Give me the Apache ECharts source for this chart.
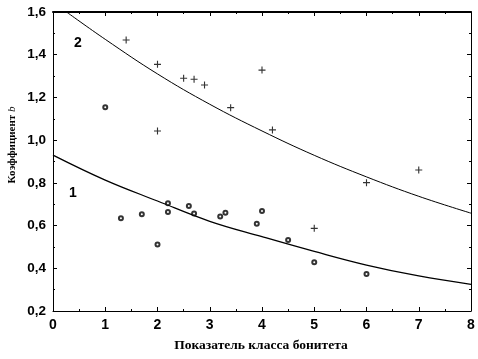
<!DOCTYPE html>
<html><head><meta charset="utf-8">
<script src="https://cdn.jsdelivr.net/npm/echarts@6/dist/echarts.min.js"></script>
<style>html,body{margin:0;padding:0;background:#fff}#c{width:478px;height:359px}</style>
</head><body><div id="c"></div>
<script>
// Series 1 (open circles)
var s1X = [1.0, 1.3, 1.7, 2.0, 2.2, 2.2, 2.6, 2.7, 3.2, 3.3, 3.9, 4.0, 4.5, 5.0, 6.0];
var s1Y = [1.154, 0.634, 0.653, 0.511, 0.704, 0.664, 0.692, 0.656, 0.642, 0.660, 0.609, 0.668, 0.533, 0.428, 0.373];
// Series 2 (crosses)
var s2X = [1.4, 2.0, 2.5, 2.7, 2.9, 3.4, 2.0, 4.0, 4.2, 7.0, 6.0, 5.0];
var s2Y = [1.469, 1.355, 1.290, 1.285, 1.258, 1.152, 1.043, 1.328, 1.048, 0.860, 0.801, 0.587];
// Fitted curves
var c1X = [0, 1, 2, 3, 4, 5, 6, 7, 8];
var c1Y = [0.930, 0.813, 0.715, 0.620, 0.548, 0.479, 0.415, 0.364, 0.325];
var c2X = [0.26, 1, 2, 3, 4, 5, 6, 7, 8];
var c2Y = [1.600, 1.472, 1.310, 1.168, 1.043, 0.929, 0.828, 0.737, 0.658];
var xTicks = [0, 8, 1];
var yTicks = [0.2, 1.6, 0.2];
var curveLabels = ['1', '2'];
var xTitle = 'Показатель класса бонитета';
var yTitle = 'Коэффициент ';
var yTitleItalic = 'b';

function zip(a, b) { return a.map(function (v, i) { return [v, b[i]]; }); }

var chart = echarts.init(document.getElementById('c'), null, {renderer: 'canvas'});
var crossPath = 'path://M-0.8,-5H0.8V-0.8H5V0.8H0.8V5H-0.8V0.8H-5V-0.8H-0.8Z';

function xa(pos, showLabel, lw) {
  return {
    type: 'value', position: pos, min: xTicks[0], max: xTicks[1], interval: xTicks[2],
    axisLine: {show: true, onZero: false, lineStyle: {color: '#000', width: lw}},
    axisTick: {show: true, inside: true, length: 4, lineStyle: {color: '#000'}},
    minorTick: {show: true, splitNumber: 2, length: 2, lineStyle: {color: '#000'}},
    axisLabel: {show: showLabel, margin: 7, formatter: function (v) { return String(v); }, color: '#000', fontWeight: 'bold', fontFamily: 'Liberation Sans, Arial', fontSize: 14},
    splitLine: {show: false}
  };
}
function ya(pos, showLabel) {
  return {
    type: 'value', position: pos, min: yTicks[0], max: yTicks[1], interval: yTicks[2],
    axisLine: {show: true, onZero: false, lineStyle: {color: '#000', width: 1}},
    axisTick: {show: true, inside: true, length: 4, lineStyle: {color: '#000'}},
    minorTick: {show: true, splitNumber: 2, length: 2, lineStyle: {color: '#000'}},
    axisLabel: {show: showLabel, margin: 7, formatter: function (v) { return v.toFixed(1).replace('.', ','); }, color: '#000', fontWeight: 'bold', fontFamily: 'Liberation Sans, Arial', fontSize: 13.5},
    splitLine: {show: false}
  };
}

chart.setOption({
  animation: false,
  backgroundColor: '#fff',
  grid: {left: 53, right: 7, top: 12, bottom: 48},
  xAxis: [xa('bottom', true, 1), xa('top', false, 2)],
  yAxis: [ya('left', true), ya('right', false)],
  series: [
    {type: 'line', data: zip(c2X, c2Y), smooth: 0.4, showSymbol: false, lineStyle: {color: '#000', width: 1}, z: 2},
    {type: 'line', data: zip(c1X, c1Y), smooth: 0.4, showSymbol: false, lineStyle: {color: '#000', width: 1.3}, z: 2},
    {type: 'scatter', data: zip(s1X, s1Y), symbol: 'emptyCircle', symbolSize: 4, itemStyle: {color: '#000', borderColor: '#000', borderWidth: 0.9}, z: 3},
    {type: 'scatter', data: zip(s2X, s2Y), symbol: crossPath, symbolSize: 7, itemStyle: {color: '#000'}, z: 3}
  ],
  graphic: [
    {type: 'text', x: 78, y: 43, style: {text: curveLabels[1], fill: '#000', font: 'bold 14px "Liberation Sans", Arial', align: 'center', verticalAlign: 'middle'}},
    {type: 'text', x: 73, y: 193, style: {text: curveLabels[0], fill: '#000', font: 'bold 14px "Liberation Sans", Arial', align: 'center', verticalAlign: 'middle'}},
    {type: 'text', x: 261, y: 346, style: {text: xTitle, fill: '#000', font: 'bold 13.5px "Liberation Serif", "Times New Roman"', align: 'center', verticalAlign: 'middle'}},
    {type: 'text', x: 12, y: 145, rotation: Math.PI / 2,
      style: {text: '{a|' + yTitle + '}{b|' + yTitleItalic + '}', align: 'center', verticalAlign: 'middle',
        rich: {a: {fill: '#000', font: 'bold 11px "Liberation Serif", "Times New Roman"'},
               b: {fill: '#000', font: 'italic 11px "Liberation Serif", "Times New Roman"'}}}}
  ]
});
</script></body></html>
